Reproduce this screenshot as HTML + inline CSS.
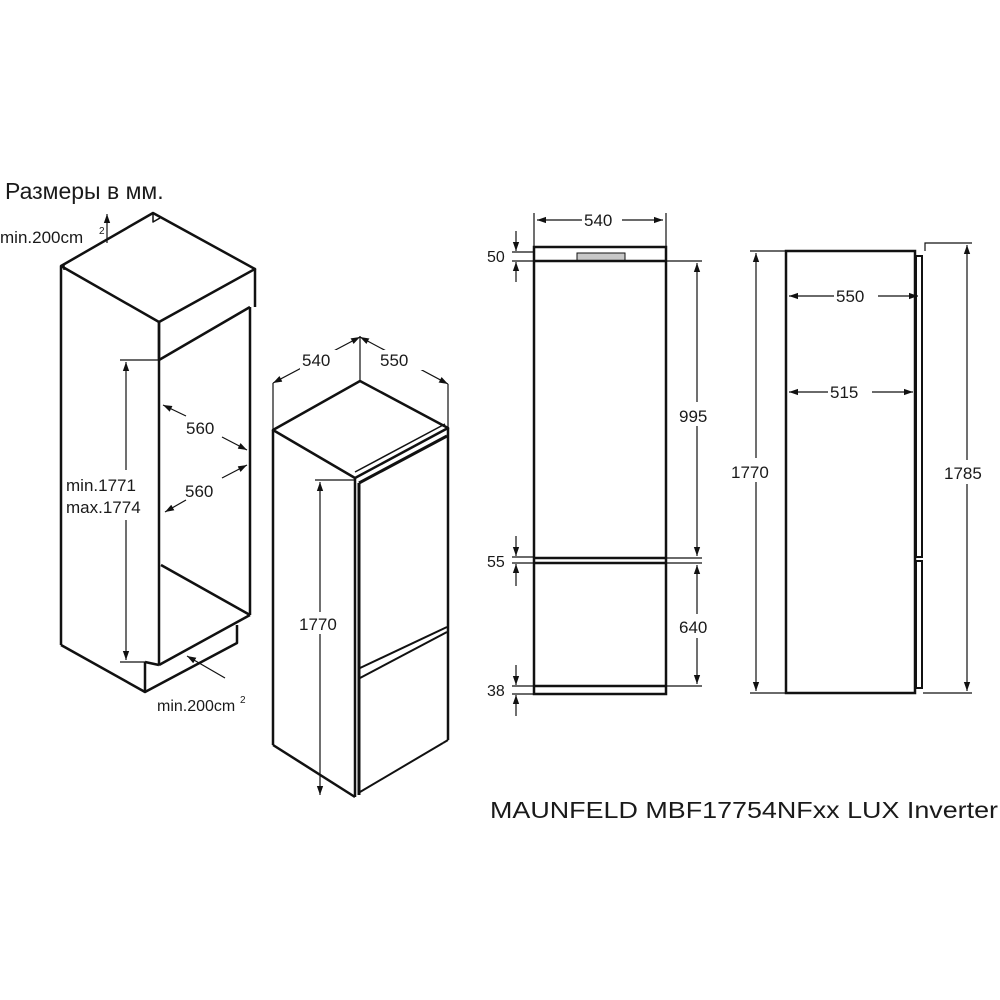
<!DOCTYPE html>
<html><head><meta charset="utf-8"><style>
html,body{margin:0;padding:0;background:#fff;}
svg{display:block;}
text{font-family:"Liberation Sans",sans-serif;fill:#1a1a1a;}
</style></head><body>
<svg width="1000" height="1000" viewBox="0 0 1000 1000" xmlns="http://www.w3.org/2000/svg">
<defs>
<marker id="a" viewBox="0 0 10 10" refX="10" refY="5" markerWidth="9" markerHeight="9" orient="auto-start-reverse" markerUnits="userSpaceOnUse"><path d="M0,1.5 L10,5 L0,8.5 z" fill="#111"/></marker>
</defs>
<rect width="1000" height="1000" fill="#fff"/>
<text x="5" y="199" font-size="23">Размеры в мм.</text>
<text x="0" y="243" font-size="17">min.200cm</text><text x="99" y="234" font-size="10">2</text>
<line x1="107" y1="243" x2="107" y2="214" stroke="#111" stroke-width="1.2" marker-end="url(#a)"/>

<!-- Left cabinet -->
<g fill="none" stroke="#111" stroke-width="2.5" stroke-linejoin="round">
<polyline points="61,645 61,266 153,213 255,269 159,322 61,266"/>
<polyline points="61,645 145,692"/>
<line x1="159" y1="322" x2="159" y2="665"/>
<polyline points="159,322 159,360 250,307"/>
<line x1="255" y1="269" x2="255" y2="307"/>
<line x1="250" y1="307" x2="250" y2="615"/>
<line x1="161" y1="565" x2="250" y2="615"/>
<line x1="159" y1="665" x2="250" y2="615"/>
<polyline points="145,662 145,692 237,643 237,625"/>
<line x1="145" y1="662" x2="159" y2="665"/>
<polyline points="153,213 153,222 160,218" stroke-width="1.5"/>
<line x1="64" y1="265" x2="64" y2="270" stroke-width="1.5"/>
</g>
<g stroke="#111" stroke-width="1.2">
<line x1="120" y1="360" x2="160" y2="360"/>
<line x1="120" y1="662" x2="145" y2="662"/>
<line x1="126" y1="362" x2="126" y2="660" marker-start="url(#a)" marker-end="url(#a)"/>
<line x1="163" y1="405" x2="186" y2="416" marker-start="url(#a)"/>
<line x1="222" y1="437" x2="247" y2="450" marker-end="url(#a)"/>
<line x1="222" y1="478" x2="247" y2="465" marker-end="url(#a)"/>
<line x1="186" y1="500" x2="165" y2="512" marker-end="url(#a)"/>
<line x1="225" y1="678" x2="187" y2="656" marker-end="url(#a)"/>
</g>
<rect x="120" y="470" width="36" height="50" fill="#fff"/>
<text x="186" y="434" font-size="17">560</text>
<text x="185" y="497" font-size="17">560</text>
<text x="66" y="491" font-size="17">min.1771</text>
<text x="66" y="513" font-size="17">max.1774</text>
<text x="157" y="711" font-size="16">min.200cm</text><text x="240" y="703" font-size="10">2</text>

<!-- Center isometric fridge -->
<g fill="none" stroke="#111" stroke-width="2.5" stroke-linejoin="round">
<polygon points="273,430 360,381 448,428 355,478"/>
<line x1="273" y1="430" x2="273" y2="745"/>
<line x1="273" y1="745" x2="355" y2="797"/>
<line x1="355" y1="478" x2="355" y2="797"/>
<line x1="359" y1="483" x2="359" y2="795" stroke-width="3"/>
<line x1="448" y1="428" x2="448" y2="740"/>
<line x1="359" y1="483" x2="447" y2="436" stroke-width="3"/>
<line x1="355" y1="472" x2="445" y2="424" stroke-width="1.5"/>
<line x1="360" y1="668" x2="447" y2="627" stroke-width="2"/>
<line x1="360" y1="678" x2="447" y2="632" stroke-width="2"/>
<line x1="360" y1="792" x2="443" y2="743" stroke-width="2"/>
<line x1="443" y1="743" x2="448" y2="740" stroke-width="2"/>
</g>
<g stroke="#111" stroke-width="1.2">
<line x1="273" y1="383" x2="273" y2="430"/>
<line x1="360" y1="336" x2="360" y2="381"/>
<line x1="448" y1="384" x2="448" y2="428"/>
<line x1="273" y1="383" x2="360" y2="337" marker-start="url(#a)" marker-end="url(#a)"/>
<line x1="360" y1="337" x2="448" y2="384" marker-start="url(#a)" marker-end="url(#a)"/>
<line x1="315" y1="480" x2="355" y2="480"/>
<line x1="320" y1="482" x2="320" y2="795" marker-start="url(#a)" marker-end="url(#a)"/>
</g>
<rect x="300" y="350" width="40" height="20" fill="#fff"/>
<rect x="378" y="350" width="50" height="20" fill="#fff"/>
<text x="302" y="366" font-size="17">540</text>
<text x="380" y="366" font-size="17">550</text>
<rect x="298" y="612" width="46" height="22" fill="#fff"/>
<text x="299" y="630" font-size="17">1770</text>

<!-- Front view -->
<rect x="577" y="253" width="48" height="8" fill="#c8c8c8" stroke="#111" stroke-width="1"/>
<g fill="none" stroke="#111" stroke-width="2.5">
<rect x="534" y="247" width="132" height="447"/>
<line x1="534" y1="261" x2="666" y2="261"/>
<line x1="534" y1="558" x2="666" y2="558"/>
<line x1="534" y1="563" x2="666" y2="563"/>
<line x1="534" y1="686" x2="666" y2="686"/>
</g>
<g stroke="#111" stroke-width="1.2">
<line x1="534" y1="213" x2="534" y2="247"/>
<line x1="666" y1="213" x2="666" y2="247"/>
<line x1="537" y1="220" x2="663" y2="220" marker-start="url(#a)" marker-end="url(#a)"/>
<line x1="666" y1="261" x2="702" y2="261"/>
<line x1="666" y1="558" x2="702" y2="558"/>
<line x1="666" y1="563" x2="702" y2="563"/>
<line x1="666" y1="686" x2="702" y2="686"/>
<line x1="697" y1="263" x2="697" y2="556" marker-start="url(#a)" marker-end="url(#a)"/>
<line x1="697" y1="565" x2="697" y2="684" marker-start="url(#a)" marker-end="url(#a)"/>
<line x1="512" y1="252" x2="534" y2="252"/>
<line x1="512" y1="261" x2="534" y2="261"/>
<line x1="516" y1="231" x2="516" y2="251" marker-end="url(#a)"/>
<line x1="516" y1="282" x2="516" y2="262" marker-end="url(#a)"/>
<line x1="512" y1="557" x2="534" y2="557"/>
<line x1="512" y1="563" x2="534" y2="563"/>
<line x1="516" y1="536" x2="516" y2="556" marker-end="url(#a)"/>
<line x1="516" y1="586" x2="516" y2="564" marker-end="url(#a)"/>
<line x1="512" y1="686" x2="534" y2="686"/>
<line x1="512" y1="694" x2="534" y2="694"/>
<line x1="516" y1="665" x2="516" y2="685" marker-end="url(#a)"/>
<line x1="516" y1="716" x2="516" y2="695" marker-end="url(#a)"/>
</g>
<rect x="582" y="208" width="40" height="20" fill="#fff"/>
<text x="584" y="226" font-size="17">540</text>
<rect x="678" y="402" width="40" height="24" fill="#fff"/>
<text x="679" y="422" font-size="17">995</text>
<rect x="678" y="614" width="40" height="24" fill="#fff"/>
<text x="679" y="633" font-size="17">640</text>
<text x="487" y="262" font-size="16">50</text>
<text x="487" y="567" font-size="16">55</text>
<text x="487" y="696" font-size="16">38</text>

<!-- Side view -->
<g fill="none" stroke="#111" stroke-width="2.5">
<rect x="786" y="251" width="129" height="442"/>
<rect x="916" y="256" width="6" height="301" stroke-width="2"/>
<rect x="916" y="561" width="6" height="127" stroke-width="2"/>
</g>
<g stroke="#111" stroke-width="1.2">
<polyline points="925,251 925,243 972,243" fill="none"/>
<line x1="750" y1="251" x2="786" y2="251"/>
<line x1="750" y1="693" x2="786" y2="693"/>
<line x1="923" y1="693" x2="972" y2="693"/>
<line x1="756" y1="253" x2="756" y2="691" marker-start="url(#a)" marker-end="url(#a)"/>
<line x1="967" y1="245" x2="967" y2="691" marker-start="url(#a)" marker-end="url(#a)"/>
<line x1="789" y1="296" x2="918" y2="296" marker-start="url(#a)" marker-end="url(#a)"/>
<line x1="789" y1="392" x2="913" y2="392" marker-start="url(#a)" marker-end="url(#a)"/>
</g>
<rect x="834" y="284" width="44" height="22" fill="#fff"/>
<text x="836" y="302" font-size="17">550</text>
<rect x="828" y="380" width="44" height="22" fill="#fff"/>
<text x="830" y="398" font-size="17">515</text>
<rect x="730" y="458" width="48" height="24" fill="#fff"/>
<text x="731" y="478" font-size="17">1770</text>
<rect x="943" y="460" width="50" height="24" fill="#fff"/>
<text x="944" y="479" font-size="17">1785</text>

<text x="490" y="818" font-size="23.5" textLength="508" lengthAdjust="spacingAndGlyphs">MAUNFELD MBF17754NFxx LUX Inverter</text>
</svg>
</body></html>
